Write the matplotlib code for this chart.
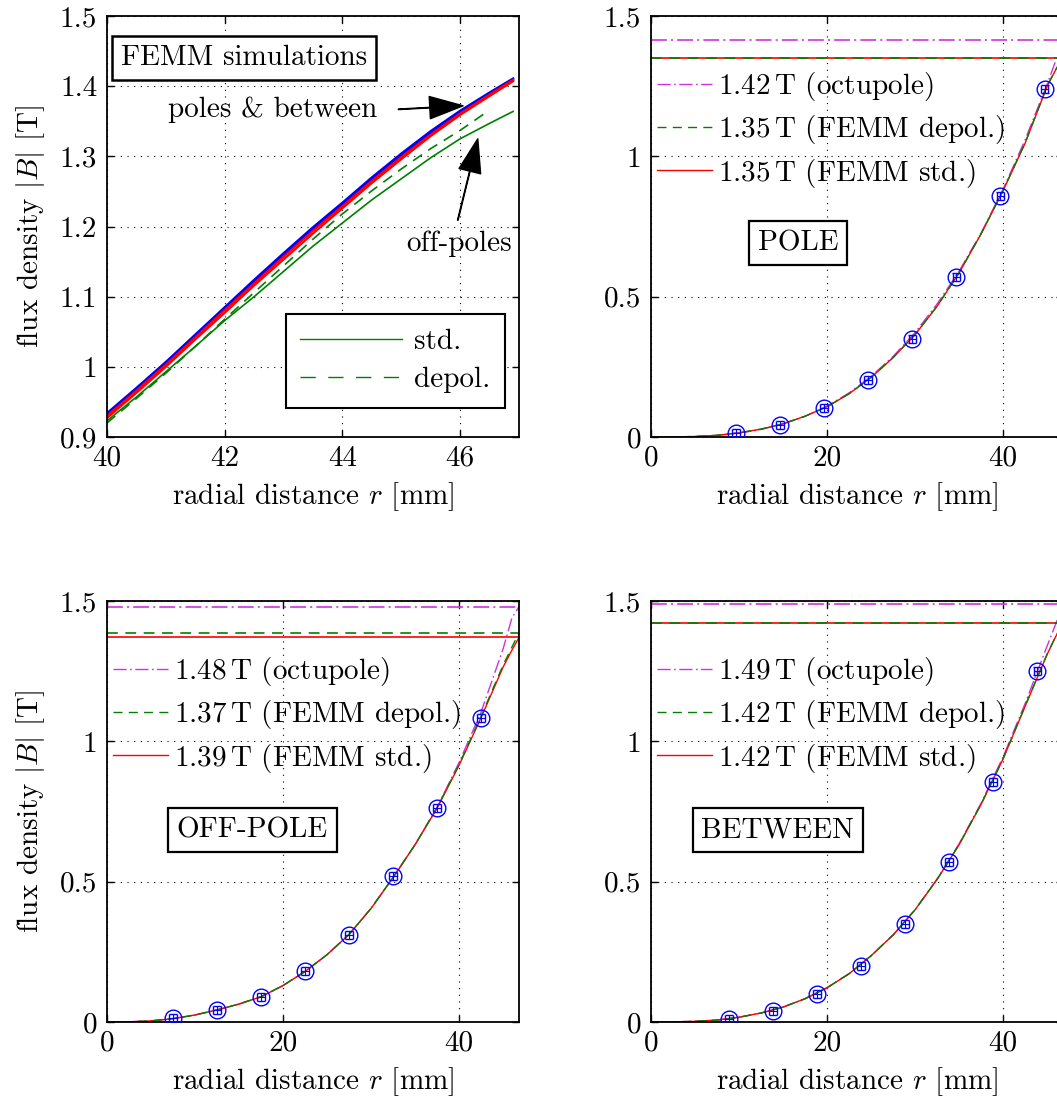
import matplotlib
matplotlib.use("Agg")
import matplotlib.pyplot as plt
from matplotlib.ticker import FuncFormatter

plt.rcParams['font.family'] = 'serif'
plt.rcParams['font.serif'] = ['cmr10']
plt.rcParams['mathtext.fontset'] = 'cm'
plt.rcParams['axes.formatter.use_mathtext'] = True
plt.rcParams['font.size'] = 21

# ---- FEMM simulations near the pole tip (top left) ----
r_sim = [40, 40.5, 41, 41.5, 42, 42.5, 43, 43.5, 44, 44.5, 45, 45.5, 46, 46.5, 46.9]
sim_blue = [
    [0.934, 0.970, 1.007, 1.046, 1.085, 1.124, 1.162, 1.199, 1.234, 1.270, 1.304,
     1.336, 1.365, 1.391, 1.411],
    [0.931, 0.967, 1.004, 1.043, 1.082, 1.121, 1.159, 1.196, 1.231, 1.267, 1.301,
     1.333, 1.362, 1.389, 1.409],
]
sim_red = [
    [0.930, 0.966, 1.003, 1.042, 1.081, 1.119, 1.157, 1.194, 1.229, 1.265, 1.299,
     1.331, 1.361, 1.388, 1.409],
    [0.927, 0.963, 1.000, 1.039, 1.077, 1.116, 1.153, 1.190, 1.226, 1.262, 1.296,
     1.329, 1.359, 1.386, 1.407],
]
sim_green_std = [0.923, 0.957, 0.993, 1.029, 1.066, 1.100, 1.136, 1.172, 1.205, 1.238,
                 1.268, 1.298, 1.325, 1.347, 1.364]
sim_green_dep = [0.920, 0.955, 0.991, 1.029, 1.068, 1.106, 1.144, 1.182, 1.218, 1.251,
                 1.282, 1.311, 1.337, 1.366]

# ---- radial profiles ----
r = [0, 2.5, 5, 7.5, 10, 12.5, 15, 17.5, 20, 22.5, 25, 27.5, 30, 32.5, 35, 37.5,
     40, 42.5, 45, 46, 46.8]

pole_oct = [0, 0.0002, 0.0017, 0.0058, 0.0138, 0.0269, 0.0466, 0.0739, 0.110, 0.157,
            0.216, 0.287, 0.372, 0.474, 0.591, 0.727, 0.883, 1.059, 1.257, 1.343, 1.414]
pole_std = [0, 0.0002, 0.0018, 0.006, 0.015, 0.028, 0.047, 0.074, 0.108, 0.154,
            0.212, 0.283, 0.365, 0.466, 0.585, 0.724, 0.878, 1.047, 1.250, 1.310, 1.350]
pole_dep = [0, 0.0002, 0.0018, 0.006, 0.015, 0.028, 0.047, 0.074, 0.108, 0.154,
            0.212, 0.283, 0.365, 0.466, 0.585, 0.724, 0.879, 1.048, 1.251, 1.311, 1.351]
pole_r_meas = [9.7, 14.7, 19.7, 24.7, 29.7, 34.7, 39.7, 44.7]
pole_b_meas = [0.014, 0.043, 0.103, 0.203, 0.349, 0.569, 0.86, 1.24]

off_oct = [0, 0.0007, 0.004, 0.012, 0.025, 0.043, 0.064, 0.090, 0.130, 0.180,
           0.240, 0.312, 0.405, 0.515, 0.632, 0.765, 0.925, 1.105, 1.330, 1.440, 1.480]
off_std = [0, 0.0007, 0.004, 0.012, 0.025, 0.043, 0.064, 0.090, 0.130, 0.180,
           0.240, 0.312, 0.405, 0.515, 0.632, 0.762, 0.915, 1.085, 1.265, 1.325, 1.370]
off_dep = [0, 0.0007, 0.004, 0.012, 0.025, 0.043, 0.064, 0.090, 0.130, 0.180,
           0.240, 0.312, 0.405, 0.515, 0.632, 0.764, 0.918, 1.090, 1.272, 1.336, 1.386]
off_r_meas = [7.5, 12.5, 17.5, 22.5, 27.5, 32.5, 37.5, 42.5]
off_b_meas = [0.014, 0.043, 0.09, 0.183, 0.311, 0.52, 0.762, 1.083]

bet_oct = [0, 0.0003, 0.0025, 0.007, 0.017, 0.032, 0.053, 0.083, 0.122, 0.172,
           0.236, 0.310, 0.400, 0.510, 0.635, 0.780, 0.945, 1.135, 1.340, 1.420, 1.490]
bet_std = [0, 0.0003, 0.0025, 0.007, 0.017, 0.032, 0.053, 0.083, 0.122, 0.172,
           0.236, 0.310, 0.400, 0.508, 0.632, 0.776, 0.938, 1.125, 1.310, 1.375, 1.420]
bet_dep = [0, 0.0003, 0.0025, 0.007, 0.017, 0.032, 0.053, 0.083, 0.122, 0.172,
           0.236, 0.310, 0.400, 0.508, 0.632, 0.776, 0.938, 1.126, 1.311, 1.376, 1.421]
bet_r_meas = [8.9, 13.9, 18.9, 23.9, 28.9, 33.9, 38.9, 43.9]
bet_b_meas = [0.011, 0.04, 0.10, 0.20, 0.35, 0.57, 0.855, 1.25]

# legend values (T) for octupole, FEMM depol., FEMM std.
pole_leg = ['1.42', '1.35', '1.35']
off_leg = ['1.48', '1.37', '1.39']
bet_leg = ['1.49', '1.42', '1.42']

GREEN = '#008000'
MAG = '#cc33dd'
DASH = (6.5, 4.5)
DASHDOT = (9.5, 2.5, 1.2, 2.5)

fig = plt.figure(figsize=(10.57, 11), dpi=100)
W, H = 412 / 1057, 421 / 1100
XL, XR = 107 / 1057, 651 / 1057
YT, YB = 1 - 437 / 1100, 1 - 1022 / 1100

fmt = FuncFormatter(lambda v, p: '%g' % round(v, 3))


def style(ax):
    ax.tick_params(direction='in', top=True, right=True, length=5, width=1)
    ax.tick_params(axis='x', pad=6)
    ax.tick_params(axis='y', pad=7)
    for s in ax.spines.values():
        s.set_linewidth(1.3)
    ax.grid(True, color='k', linestyle=(0, (1, 5)), linewidth=0.8)
    ax.xaxis.set_major_formatter(fmt)
    ax.yaxis.set_major_formatter(fmt)
    ax.set_xlabel(r'radial distance $r$ [mm]', labelpad=6)


# top left
ax = fig.add_axes([XL, YT, W, H])
style(ax)
ax.plot(r_sim, sim_green_std, color=GREEN, lw=1.2)
ax.plot(r_sim[:len(sim_green_dep)], sim_green_dep, color=GREEN, lw=1.2, dashes=DASH)
for y in sim_blue:
    ax.plot(r_sim, y, color='b', lw=1.6)
for y in sim_red:
    ax.plot(r_sim, y, color='r', lw=1.6)
ax.set_xlim(40, 47)
ax.set_ylim(0.9, 1.5)
ax.set_xticks([40, 42, 44, 46])
ax.set_yticks([0.9, 1.0, 1.1, 1.2, 1.3, 1.4, 1.5])
ax.set_ylabel(r'flux density $|B|$ [T]', labelpad=9)
ax.text(42.33, 1.44, 'FEMM simulations', ha='center', va='center',
        bbox=dict(boxstyle='square,pad=0.3', fc='w', ec='k', lw=1.8))
arrow = dict(facecolor='k', edgecolor='k', width=0.4, headwidth=16,
             headlength=24, shrink=0)
ax.text(44.6, 1.366, 'poles & between', ha='right', va='center')
ax.annotate('', xy=(46.05, 1.372), xytext=(44.95, 1.367), arrowprops=arrow)
ax.text(45.98, 1.176, 'off-poles', ha='center', va='center')
ax.annotate('', xy=(46.3, 1.325), xytext=(45.96, 1.209), arrowprops=arrow)
h1, = ax.plot([], [], color=GREEN, lw=1.0)
h2, = ax.plot([], [], color=GREEN, lw=1.0, dashes=(11, 9))
leg = ax.legend([h1, h2], ['std.', 'depol.'], loc='lower right',
                bbox_to_anchor=(0.966, 0.069), borderaxespad=0, fancybox=False,
                edgecolor='k', framealpha=1, handlelength=3.5, handletextpad=0.4,
                labelspacing=0.4, borderpad=0.5)
leg.get_frame().set_linewidth(1.5)


def profile(pos, oct_b, std_b, dep_b, rm, bm, leg_vals, title, tpos, ylabel):
    ax = fig.add_axes(pos)
    style(ax)
    ho, = ax.plot(r, oct_b, color=MAG, lw=1.0, dashes=DASHDOT)
    hs, = ax.plot(r, std_b, color='r', lw=1.0)
    hd, = ax.plot(r, dep_b, color=GREEN, lw=1.0, dashes=DASH)
    ax.axhline(max(oct_b), color=MAG, lw=1.2, dashes=DASHDOT)
    ax.axhline(max(std_b), color='r', lw=1.2)
    ax.axhline(max(dep_b), color=GREEN, lw=1.2, dashes=DASH)
    ax.errorbar(rm, bm, xerr=0.45, yerr=0.014, fmt='o', mfc='none', mec='b',
                ms=12, mew=1.0, ecolor='b', elinewidth=0.8, capsize=3, zorder=5)
    ax.set_xlim(0, 46.8)
    ax.set_ylim(0, 1.5)
    ax.set_xticks([0, 20, 40])
    ax.set_yticks([0, 0.5, 1, 1.5])
    if ylabel:
        ax.set_ylabel(r'flux density $|B|$ [T]', labelpad=9)
    ax.legend([ho, hd, hs],
              [leg_vals[0] + r'$\,$T (octupole)',
               leg_vals[1] + r'$\,$T (FEMM depol.)',
               leg_vals[2] + r'$\,$T (FEMM std.)'],
              loc='upper left', bbox_to_anchor=(0.0, 0.885), borderaxespad=0,
              frameon=False, handlelength=1.9, handletextpad=0.2,
              labelspacing=0.35, borderpad=0.2)
    ax.text(tpos[0], tpos[1], title, ha='center', va='center',
            bbox=dict(boxstyle='square,pad=0.3', fc='w', ec='k', lw=1.6))


profile([XR, YT, W, H], pole_oct, pole_std, pole_dep, pole_r_meas, pole_b_meas,
        pole_leg, 'POLE', (16.7, 0.69), False)
profile([XL, YB, W, H], off_oct, off_std, off_dep, off_r_meas, off_b_meas,
        off_leg, 'OFF-POLE', (16.5, 0.684), True)
profile([XR, YB, W, H], bet_oct, bet_std, bet_dep, bet_r_meas, bet_b_meas,
        bet_leg, 'BETWEEN', (14.4, 0.684), False)

fig.savefig('out.png', dpi=100)
